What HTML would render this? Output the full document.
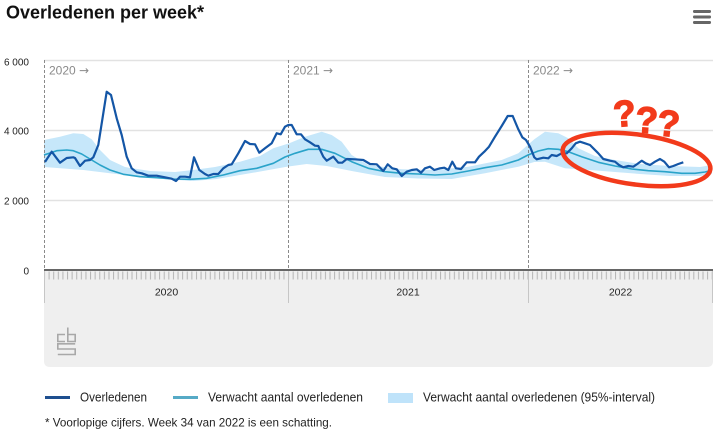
<!DOCTYPE html>
<html>
<head>
<meta charset="utf-8">
<style>
  html,body{margin:0;padding:0;background:#fff;}
  body{width:723px;height:434px;overflow:hidden;}
  svg{display:block;}
  text{font-family:"Liberation Sans", sans-serif;}
</style>
</head>
<body>
<svg width="723" height="434" viewBox="0 0 723 434" xmlns="http://www.w3.org/2000/svg">
  <defs>
    <pattern id="ticks" x="44" y="0" width="4.605" height="434" patternUnits="userSpaceOnUse">
      <rect x="0" y="0" width="1" height="434" fill="#b4b4b4"/>
    </pattern>
  </defs>

  <!-- Title -->
  <text x="6" y="18.5" font-size="18" font-weight="bold" fill="#111" textLength="198" lengthAdjust="spacingAndGlyphs">Overledenen per week*</text>

  <!-- Hamburger -->
  <rect x="693" y="10" width="18" height="3" rx="1.2" fill="#666"/>
  <rect x="693" y="15.5" width="18" height="3" rx="1.2" fill="#666"/>
  <rect x="693" y="21" width="18" height="3" rx="1.2" fill="#666"/>

  <!-- Gridlines -->
  <line x1="44" y1="60.5" x2="713" y2="60.5" stroke="#e2e2e2" stroke-width="1.5"/>
  <line x1="44" y1="130.5" x2="713" y2="130.5" stroke="#e2e2e2" stroke-width="1.5"/>
  <line x1="44" y1="200.5" x2="713" y2="200.5" stroke="#e2e2e2" stroke-width="1.5"/>

  <!-- Y labels -->
  <g font-size="10" fill="#222" text-anchor="end">
    <text x="29" y="65.5">6 000</text>
    <text x="29" y="134.5">4 000</text>
    <text x="29" y="204.5">2 000</text>
    <text x="29" y="274.5">0</text>
  </g>

  <!-- Gray band below axis -->
  <path d="M44 270 H713 V361 Q713 367 707 367 H50 Q44 367 44 361 Z" fill="#efefef"/>
  <rect x="44" y="271.5" width="669" height="8" fill="url(#ticks)"/>
  <g stroke="#c6c6c6" stroke-width="1">
    <line x1="44.5" y1="270" x2="44.5" y2="303"/>
    <line x1="288.5" y1="270" x2="288.5" y2="303"/>
    <line x1="528.5" y1="270" x2="528.5" y2="303"/>
    <line x1="712.5" y1="270" x2="712.5" y2="303"/>
  </g>
  <g font-size="10.5" fill="#222" text-anchor="middle">
    <text x="166.5" y="295.5">2020</text>
    <text x="408" y="295.5">2021</text>
    <text x="620.5" y="295.5">2022</text>
  </g>

  <!-- CBS logo -->
  <g fill="none" stroke="#a8a8a8" stroke-width="1.6">
    <path d="M65 334.5 H57.8 V341.5 H65"/>
    <path d="M67.8 327.5 V341.5 H75.2 V334.5 H67.8"/>
    <path d="M75.2 343.8 H57.8 V349 H75.2 V354.5 H57.8"/>
  </g>

  <!-- Confidence band -->
  <path fill="#c6e7fa" d="M44,140 L60,136.7 L73.3,133.3 L83.3,134 L91.7,139.3 L100,150 L110,160 L125,167 L150,171 L175,172 L193,170 L215,167 L240,161.7 L260,156 L273.3,148.3 L289.3,143.3 L305,136.7 L321.7,131.7 L331.7,135 L341.7,141.7 L351.7,155 L368.3,165 L401.7,169.3 L435,170 L468.3,166.7 L501.7,160 L518.3,153.3 L534.3,139.3 L545,131.7 L558.3,133.3 L568.3,138.3 L578.3,148.3 L595,156 L615,160 L640,164 L670,166 L700,167 L712,165
  L712,174 L700,176 L670,176 L640,174 L615,172 L590,170 L565,168.3 L545,161.7 L534.3,162 L518.3,166.7 L485,173.3 L451.7,179 L418.3,178.5 L385,177 L351.7,171 L326.7,166 L306.7,164 L286.7,166.7 L250,173.3 L216.7,179 L193.3,181 L166.7,179.3 L133.3,176 L110,173.3 L83.3,170 L44,167 Z"/>

  <!-- Dashed year lines -->
  <g stroke="#8a8a8a" stroke-width="1" stroke-dasharray="3,2">
    <line x1="44.5" y1="60" x2="44.5" y2="269"/>
    <line x1="288.5" y1="60" x2="288.5" y2="269"/>
    <line x1="528.5" y1="60" x2="528.5" y2="269"/>
  </g>
  <g font-size="12" fill="#8a8a8a">
    <text x="49" y="74.5">2020 <tspan font-family="DejaVu Sans, sans-serif" font-size="12">→</tspan></text>
    <text x="293" y="74.5">2021 <tspan font-family="DejaVu Sans, sans-serif" font-size="12">→</tspan></text>
    <text x="533" y="74.5">2022 <tspan font-family="DejaVu Sans, sans-serif" font-size="12">→</tspan></text>
  </g>

  <!-- Expected line -->
  <polyline fill="none" stroke="#2aa3c9" stroke-width="1.6" stroke-linejoin="round"
    points="44,155 56.7,150.7 66.7,150 73.3,150.7 81.7,154 90,159 100,165 110,170 123.3,174.3 140,176.7 156.7,177.7 173.3,179 190,179.3 206.7,178.3 223.3,175 240,170.7 256.7,168.3 273.3,163.3 285,157 295,153.3 308.3,149.3 321.7,149.3 335,153.3 351.7,161.7 368.3,168.3 385,171.7 401.7,173.3 418.3,174 435,175 451.7,174 468.3,171 485,167.7 501.7,165 518.3,160 528,155 538.3,151 548.3,148.7 558.3,149.3 568.3,151.7 581.7,156.7 598.3,162.3 615,166 631.7,169 648.3,170.7 665,171.7 681.7,173.3 695,173.3 705,172 711,170.5"/>

  <!-- Observed line -->
  <polyline fill="none" stroke="#1456a6" stroke-width="2.2" stroke-linejoin="round"
    points="45,162 51.7,151.7 60,162.7 66.7,158 73.3,157.3 75,158 80,166 85,160.7 90,160 93.3,157.3 98.3,145 103.3,113.3 106.7,91.7 111,95 116.7,118.3 121.7,135 126.7,156.7 131.7,168.3 136.7,172.3 141.7,173.3 148.3,175.7 156.7,175.7 165,177.3 171.7,178.7 176,181 180,176.7 185,176.7 190,177.3 194,157.3 199.3,170 205,174 208.3,175.7 213.3,174 218.3,174 223.3,168.3 228.3,165 231.7,164.3 238.3,153.3 245,141 250,144 255,144.3 259.3,152.7 265,148.3 271.7,143.3 276.7,133.3 280.7,134.3 285,126.7 288.3,125 291.7,125 296.7,134.3 301,134.3 305,139.3 310,142.3 315,145.7 318.3,146 323.3,156.7 326.7,160.7 333.3,156.7 338.3,162.7 342.3,162.7 346.7,159 355,159.3 363.3,160 370,164 376.7,164.3 383.3,171 387.7,164.3 392.3,168.3 396.7,169.3 401.7,176 406.7,171.7 411.7,170 416.7,169.3 421,172.7 425,168.3 430,166.7 434.3,170 440,168.3 444.3,167.7 448.3,170 452.3,161.7 456,168.3 461,169 466.7,162.3 475,162.3 479,156.7 484.3,151.7 489,146.7 495,136.7 501.7,126 507.7,116 512.7,116 518.3,129.3 522.3,137.3 526,140 530,146.7 534.3,157.3 536.7,159.3 543.3,157.7 548.3,158.3 551.7,155 556.7,156 561.7,153.3 566.7,153.3 571.7,148.3 575.7,143.3 580,141.7 585,143.3 590,145 593.3,148.3 598.3,153.3 603.3,159 610,160.7 615,161.7 619,165 623.3,167.3 628.3,166 633.3,166.7 637.3,164 641.7,160.7 645.7,163.3 650,165 655,161.7 660,159 664.3,161.7 669,167.3 673.3,166 678.3,164 683.3,162.3"/>

  <!-- Axis line -->
  <line x1="44" y1="270" x2="713" y2="270" stroke="#666" stroke-width="2"/>

  <!-- Red annotation -->
  <ellipse cx="636.5" cy="159.5" rx="74.5" ry="25" transform="rotate(7.7 636.5 159.5)" fill="none" stroke="#f23a1b" stroke-width="4.5"/>
  <g font-size="37" font-weight="bold" fill="#f23a1b" stroke="#f23a1b" stroke-width="1.2">
    <text transform="translate(614,127) rotate(-4)">?</text>
    <text transform="translate(634.5,132) rotate(4)">?</text>
    <text transform="translate(656,135) rotate(6)">?</text>
  </g>

  <!-- Legend -->
  <line x1="45" y1="397.5" x2="70" y2="397.5" stroke="#1e4f8f" stroke-width="3"/>
  <text x="80" y="401.5" font-size="12.5" fill="#222" textLength="67" lengthAdjust="spacingAndGlyphs">Overledenen</text>
  <line x1="173" y1="397.5" x2="198" y2="397.5" stroke="#56aac6" stroke-width="3"/>
  <text x="208" y="401.5" font-size="12.5" fill="#222" textLength="155" lengthAdjust="spacingAndGlyphs">Verwacht aantal overledenen</text>
  <rect x="388" y="393" width="25" height="10" fill="#bfe3fa"/>
  <text x="423" y="401.5" font-size="12.5" fill="#222" textLength="232" lengthAdjust="spacingAndGlyphs">Verwacht aantal overledenen (95%-interval)</text>

  <!-- Footnote -->
  <text x="45" y="426.5" font-size="12" fill="#222" textLength="287" lengthAdjust="spacingAndGlyphs">* Voorlopige cijfers. Week 34 van 2022 is een schatting.</text>
</svg>
</body>
</html>
